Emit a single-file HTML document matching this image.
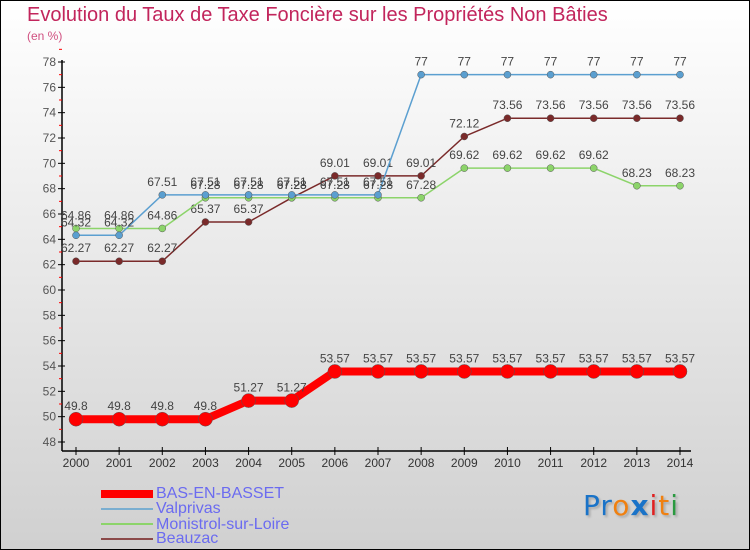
<!DOCTYPE html>
<html><head><meta charset="utf-8"><style>
body{margin:0}
#wrap{position:relative;width:748px;height:548px;border:1px solid #000;background:linear-gradient(#ffffff,#d0d0d0);font-family:"Liberation Sans",sans-serif;overflow:hidden}
.t{position:absolute;color:#c2255c}
.leg{position:absolute;left:155px;color:#6b6bf0;font-size:16px;line-height:16px}
</style></head><body>
<div id="wrap">
<div class="t" style="left:26px;top:3px;font-size:20px">Evolution du Taux de Taxe Foncière sur les Propriétés Non Bâties</div>
<div class="t" style="left:26px;top:28px;font-size:12px;color:#d05080">(en %)</div>
<svg id="svg" width="748" height="548" style="position:absolute;left:0;top:0"></svg>
<div>
<div style="position:absolute;left:100px;top:489px;width:52px;height:8px;background:#f00"></div>
<div class="leg" style="top:485px">BAS-EN-BASSET</div>
<div style="position:absolute;left:100px;top:507px;width:52px;height:2px;background:#7aaed0"></div>
<div class="leg" style="top:500px">Valprivas</div>
<div style="position:absolute;left:100px;top:522px;width:52px;height:2px;background:#8cd46a"></div>
<div class="leg" style="top:516px">Monistrol-sur-Loire</div>
<div style="position:absolute;left:100px;top:537px;width:52px;height:2px;background:#8b4a4a"></div>
<div class="leg" style="top:530px">Beauzac</div>
</div>
<div style="position:absolute;left:582px;top:488px;font-size:28px;font-family:'DejaVu Sans',sans-serif;letter-spacing:1px;text-shadow:2px 2px 2px #aaa"><span style="color:#1a73c8">Pr</span><span style="color:#f08010">o</span><span style="color:#1a73c8;font-weight:bold">x</span><span style="color:#e02020">i</span><span style="color:#f08010">t</span><span style="color:#2a9a40">i</span></div>
</div>
<script>
const years=[2000,2001,2002,2003,2004,2005,2006,2007,2008,2009,2010,2011,2012,2013,2014];
const bas=[49.8,49.8,49.8,49.8,51.27,51.27,53.57,53.57,53.57,53.57,53.57,53.57,53.57,53.57,53.57];
const valprivas=[64.32,64.32,67.51,67.51,67.51,67.51,67.51,67.51,77,77,77,77,77,77,77];
const monistrol=[64.86,64.86,64.86,67.28,67.28,67.28,67.28,67.28,67.28,69.62,69.62,69.62,69.62,68.23,68.23];
const beauzac=[62.27,62.27,62.27,65.37,65.37,67.28,69.01,69.01,69.01,72.12,73.56,73.56,73.56,73.56,73.56];
const yTicks=[48,50,52,54,56,58,60,62,64,66,68,70,72,74,76,78];
const svg=document.getElementById('svg');const NS='http://www.w3.org/2000/svg';
const X=i=>75+i*(679-75)/14;
const Y=v=>441-(v-48)*(441-61)/30;
function mk(t,a,p){const e=document.createElementNS(NS,t);for(const k in a)e.setAttribute(k,a[k]);(p||svg).appendChild(e);return e;}
const ax=mk('g',{});
mk('line',{x1:61,y1:59,x2:61,y2:450,stroke:'#000','stroke-width':1.5},ax);
mk('line',{x1:61,y1:450,x2:690,y2:450,stroke:'#000','stroke-width':1.5},ax);
yTicks.forEach(v=>{
 mk('line',{x1:57,x2:64,y1:Y(v),y2:Y(v),stroke:'#000'},ax);
 mk('line',{x1:58,x2:61,y1:Y(v+1),y2:Y(v+1),stroke:'#f00'},ax);
 const t=mk('text',{x:55,y:Y(v)+4,'text-anchor':'end','font-size':12,fill:'#555','font-family':'Liberation Sans'},ax);t.textContent=v;
 
});
years.forEach((y,i)=>{
 mk('line',{x1:X(i),x2:X(i),y1:446,y2:454,stroke:'#000'},ax);
 const t=mk('text',{x:X(i),y:466,'text-anchor':'middle','font-size':12,fill:'#333','font-family':'Liberation Sans'},ax);t.textContent=y;
 
});
function series(data,color,w,r,name){
 const g=mk('g',{});
 mk('polyline',{points:data.map((v,i)=>X(i)+','+Y(v)).join(' '),fill:'none',stroke:color,'stroke-width':w},g);
 data.forEach((v,i)=>{
  const c=mk('circle',{cx:X(i),cy:Y(v),r:r,fill:color,stroke:'#555','stroke-width':0.5},g);
  
  const t=mk('text',{x:X(i),y:Y(v)-9,'text-anchor':'middle','font-size':12,fill:'#444','font-family':'Liberation Sans'},g);t.textContent=v;
 });
}
series(beauzac,'#7a2a2a',1.5,3.5,'beauzac');
series(monistrol,'#8cd46a',1.5,3.5,'monistrol');
series(valprivas,'#5b9fd0',1.5,3.5,'valprivas');
series(bas,'#f00',8,7,'bas-en-basset');
</script>
</body></html>
